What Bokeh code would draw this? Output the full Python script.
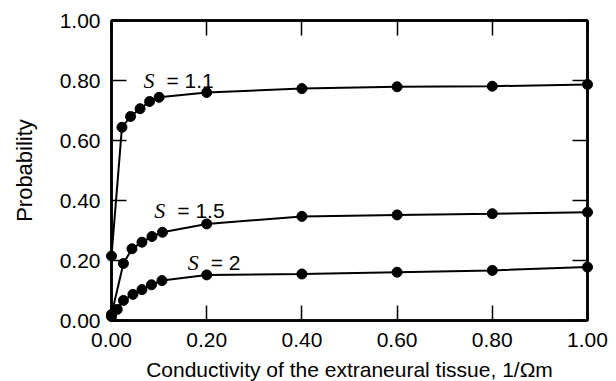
from bokeh.plotting import figure
from bokeh.models import FixedTicker, PrintfTickFormatter, LinearAxis, Range1d, ColumnDataSource
from bokeh.core.properties import value
from bokeh.embed import file_html
from bokeh.resources import INLINE

# Data
x_s11 = [0.0, 0.022, 0.04, 0.06, 0.08, 0.10, 0.20, 0.40, 0.60, 0.80, 1.00]
y_s11 = [0.215, 0.644, 0.680, 0.706, 0.730, 0.744, 0.760, 0.773, 0.779, 0.781, 0.787]

x_s15 = [0.0, 0.025, 0.043, 0.064, 0.085, 0.107, 0.20, 0.40, 0.60, 0.80, 1.00]
y_s15 = [0.020, 0.190, 0.239, 0.261, 0.280, 0.294, 0.322, 0.347, 0.352, 0.356, 0.361]

x_s2 = [0.0, 0.012, 0.025, 0.045, 0.064, 0.084, 0.106, 0.20, 0.40, 0.60, 0.80, 1.00]
y_s2 = [0.013, 0.037, 0.067, 0.087, 0.103, 0.119, 0.133, 0.152, 0.155, 0.161, 0.167, 0.178]

label_names = ["= 1.1", "= 1.5", "= 2"]
label_x = [0.067, 0.090, 0.160]
label_y = [0.800, 0.367, 0.194]

ticks = [0.0, 0.2, 0.4, 0.6, 0.8, 1.0]

p = figure(frame_width=476, frame_height=300, output_backend="svg", toolbar_location=None,
           x_range=Range1d(0, 1), y_range=Range1d(0, 1),
           min_border_left=111, min_border_right=21, min_border_top=20, min_border_bottom=40)
p.background_fill_color = "white"
p.border_fill_color = "white"
p.outline_line_color = "black"
p.outline_line_width = 2.5
p.xgrid.visible = False
p.ygrid.visible = False

FONT = "Liberation Sans"

def style(ax, labels=True):
    ax.ticker = FixedTicker(ticks=ticks)
    ax.formatter = PrintfTickFormatter(format="%.2f")
    ax.major_tick_in = 15
    ax.major_tick_out = 0
    ax.minor_tick_line_color = None
    ax.major_tick_line_width = 1.5
    ax.major_tick_line_color = "black"
    ax.axis_line_width = 2.5
    ax.axis_line_color = "black"
    ax.major_label_text_font = FONT
    ax.major_label_text_font_size = "21px"
    ax.major_label_text_color = "black"
    ax.axis_label_text_font = FONT
    ax.axis_label_text_font_style = "normal"
    ax.axis_label_text_color = "black"
    if not labels:
        ax.major_label_text_font_size = "0px"
        ax.major_label_text_color = None

style(p.xaxis[0])
style(p.yaxis[0])
p.xaxis[0].axis_label = "Conductivity of the extraneural tissue, 1/\u03a9m"
p.xaxis[0].axis_label_text_font_size = "21px"
p.xaxis[0].major_label_standoff = 12
p.xaxis[0].axis_label_standoff = 8
p.yaxis[0].axis_label = "Probability"
p.yaxis[0].axis_label_text_font_size = "22px"
p.yaxis[0].major_label_standoff = 11
p.yaxis[0].axis_label_standoff = 20

top = LinearAxis()
right = LinearAxis()
style(top, labels=False)
style(right, labels=False)
p.add_layout(top, "above")
p.add_layout(right, "right")

for xs, ys in [(x_s11, y_s11), (x_s15, y_s15), (x_s2, y_s2)]:
    src = ColumnDataSource(dict(x=xs, y=ys))
    r1 = p.line("x", "y", source=src, line_color="black", line_width=2)
    r2 = p.scatter("x", "y", source=src, size=10, fill_color="black", line_color="black")
    r1.level = "overlay"
    r2.level = "overlay"

lab = ColumnDataSource(dict(x=label_x, y=label_y, t=label_names, s=["S"] * 3))
p.text("x", "y", text="s", source=lab, text_font=value("Liberation Serif"),
       text_font_style="italic", text_font_size="22px", text_baseline="alphabetic",
       text_align="left", text_color="black")
p.text("x", "y", text="t", source=lab, x_offset=23, text_font=value(FONT),
       text_font_size="21px", text_baseline="alphabetic", text_align="left",
       text_color="black")

open("out.html", "w").write(file_html(p, INLINE))
